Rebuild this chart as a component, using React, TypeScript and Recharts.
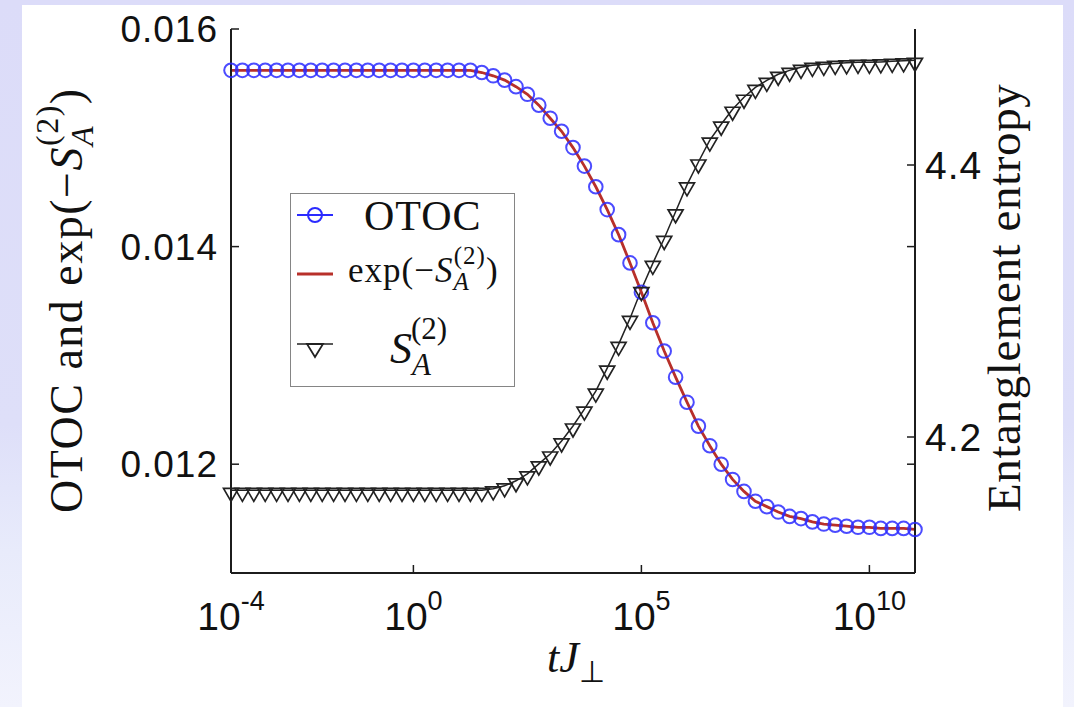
import React from "react"
import { LineChart, Line, XAxis, YAxis, Legend } from "recharts"

const SANS = "'Liberation Sans', Arial, Helvetica, sans-serif"
const SERIF = "'Liberation Serif', 'Times New Roman', serif"
const BLUE = "#2b2bff"
const RED = "#b8302a"
const DARK = "#222222"
const AXIS = "#1c1c1c"

// log10(t J_perp) of every sample
const EXPONENTS = [
  -4, -3.75, -3.5, -3.25, -3, -2.75, -2.5, -2.25, -2, -1.75,
  -1.5, -1.25, -1, -0.75, -0.5, -0.25, 0, 0.25, 0.5, 0.75,
  1, 1.25, 1.5, 1.75, 2, 2.25, 2.5, 2.75, 3, 3.25,
  3.5, 3.75, 4, 4.25, 4.5, 4.75, 5, 5.25, 5.5, 5.75,
  6, 6.25, 6.5, 6.75, 7, 7.25, 7.5, 7.75, 8, 8.25,
  8.5, 8.75, 9, 9.25, 9.5, 9.75, 10, 10.25, 10.5, 10.75, 11,
]

const OTOC = [
  0.01562, 0.01562, 0.01562, 0.01562, 0.01562, 0.01562, 0.01562, 0.01562, 0.01562, 0.01562,
  0.01562, 0.01562, 0.01562, 0.01562, 0.01562, 0.01562, 0.01562, 0.01562, 0.01562, 0.01562,
  0.01562, 0.01562, 0.0156, 0.01557, 0.01553, 0.01547, 0.0154, 0.0153, 0.01518, 0.01506,
  0.01491, 0.01474, 0.01455, 0.01434, 0.01411, 0.01385, 0.01358, 0.0133, 0.01304, 0.0128,
  0.01257, 0.01235, 0.01217, 0.012, 0.01186, 0.01175, 0.01166, 0.01161, 0.01156, 0.01152,
  0.0115, 0.01147, 0.01145, 0.01144, 0.01143, 0.01142, 0.01142, 0.01141, 0.01141, 0.01141, 0.0114,
]

// red curve, lies on top of the OTOC circles
const EXP_S = [
  0.01562, 0.01562, 0.01562, 0.01562, 0.01562, 0.01562, 0.01562, 0.01562, 0.01562, 0.01562,
  0.01562, 0.01562, 0.01562, 0.01562, 0.01562, 0.01562, 0.01562, 0.01562, 0.01562, 0.01562,
  0.01562, 0.01562, 0.0156, 0.01557, 0.01553, 0.01547, 0.0154, 0.0153, 0.01518, 0.01506,
  0.01491, 0.01474, 0.01455, 0.01434, 0.01411, 0.01385, 0.01358, 0.0133, 0.01304, 0.0128,
  0.01257, 0.01235, 0.01217, 0.012, 0.01186, 0.01175, 0.01166, 0.01161, 0.01156, 0.01152,
  0.0115, 0.01147, 0.01145, 0.01144, 0.01143, 0.01142, 0.01142, 0.01141, 0.01141, 0.01141, 0.0114,
]

const ENTROPY = [
  4.1608, 4.1608, 4.1608, 4.1608, 4.1608, 4.1608, 4.1608, 4.1608, 4.1608, 4.1608,
  4.1608, 4.1608, 4.1608, 4.1608, 4.1608, 4.1608, 4.1608, 4.1608, 4.1608, 4.1608,
  4.1608, 4.1608, 4.1608, 4.1619, 4.1641, 4.1678, 4.1729, 4.1802, 4.1875, 4.1971,
  4.2081, 4.2205, 4.2337, 4.2506, 4.2681, 4.2872, 4.3084, 4.3277, 4.346, 4.3656,
  4.3854, 4.4022, 4.4183, 4.43, 4.441, 4.4498, 4.4571, 4.4622, 4.4667, 4.4696,
  4.4718, 4.4733, 4.474, 4.4747, 4.4751, 4.4755, 4.4755, 4.4758, 4.4762, 4.4766, 4.477,
]

const X_TICKS = [1e-4, 1, 1e5, 1e10]
const LEFT_TICKS = [0.012, 0.014, 0.016]
// right axis: labelled ticks plus the mirrored left ticks (0.012 / 0.014)
const RIGHT_TICKS = [4.18, 4.2, 4.34, 4.4]
const RIGHT_LABELS = ["4.2", "4.4"]

const rows = EXPONENTS.map((e, i) => ({
  t: Math.pow(10, e),
  otoc: OTOC[i],
  expS: EXP_S[i],
  entropy: ENTROPY[i],
}))

const triPath = (cx: number, cy: number, s = 7.5) =>
  `M${cx - s},${cy - 2} L${cx + s},${cy - 2} L${cx},${cy + 11} Z`

const XTick = (props: any) => {
  const { x, y, payload } = props
  const exp = Math.round(Math.log10(payload.value))
  return (
    <g>
      <line x1={x} x2={x} y1={y} y2={y - 8} stroke={AXIS} strokeWidth={1.5} />
      <text x={x} y={y + 57} textAnchor="middle" fontFamily={SANS} fontSize={39} fill="#111">
        10<tspan fontSize={27} dy={-20}>{exp}</tspan>
      </text>
    </g>
  )
}

const TopTick = (props: any) => {
  const { x, y } = props
  return <line x1={x} x2={x} y1={y} y2={y + 8} stroke={AXIS} strokeWidth={1.5} />
}

const LeftTick = (props: any) => {
  const { x, y, payload } = props
  return (
    <g>
      <line x1={x} x2={x + 8} y1={y} y2={y} stroke={AXIS} strokeWidth={1.5} />
      <text x={x - 13} y={y} dy="0.35em" textAnchor="end" fontFamily={SANS} fontSize={37} letterSpacing={1} fill="#111">
        {payload.value.toFixed(3)}
      </text>
    </g>
  )
}

const RightTick = (props: any) => {
  const { x, y, payload } = props
  const txt = payload.value.toFixed(1)
  const show = RIGHT_LABELS.includes(payload.value.toFixed(2).replace(/0$/, ""))
  return (
    <g>
      <line x1={x} x2={x - 8} y1={y} y2={y} stroke={AXIS} strokeWidth={1.5} />
      {show && (
        <text x={x + 10} y={y} dy="0.35em" textAnchor="start" fontFamily={SANS} fontSize={39} letterSpacing={1} fill="#111">
          {txt}
        </text>
      )}
    </g>
  )
}

const LeftLabel = () => (
  <text transform="translate(82,513) rotate(-90)" fontFamily={SERIF} fontSize={46} letterSpacing={1.5} fill="#111">
    OTOC and exp(−<tspan fontStyle="italic">S</tspan>
    <tspan fontSize={32} fontStyle="italic" dy={11}>A</tspan>
    <tspan fontSize={32} dx={-21} dy={-35}>(2)</tspan>
    <tspan dy={24}>)</tspan>
  </text>
)

const RightLabel = () => (
  <text transform="translate(1020,512) rotate(-90)" fontFamily={SERIF} fontSize={47} letterSpacing={0.6} fill="#111">
    Entanglement entropy
  </text>
)

const BottomLabel = () => (
  <text x={547} y={672} fontFamily={SERIF} fontSize={44} fontStyle="italic" fill="#111">
    tJ<tspan fontStyle="normal" fontSize={30} dy={10}>⊥</tspan>
  </text>
)

// legend box: 225 x 194, the svg sticks out a little so glyph boxes are not cut
const LegendBox = () => (
  <div
    style={{
      position: "relative",
      width: 225,
      height: 194,
      background: "#fff",
      border: "1.5px solid #858585",
      boxSizing: "border-box",
    }}
  >
    <svg
      width={222}
      height={207}
      style={{ position: "absolute", left: 0, top: -10, display: "block", overflow: "visible" }}
    >
      <g transform="translate(0,10)">
        <line x1={6} x2={42} y1={21} y2={21} stroke={BLUE} strokeWidth={1.8} />
        <circle cx={24} cy={21} r={7} fill="none" stroke={BLUE} strokeWidth={2} />
        <text x={73} y={36} fontFamily={SERIF} fontSize={42} letterSpacing={1} fill="#111">OTOC</text>

        <line x1={6} x2={42} y1={80} y2={80} stroke={RED} strokeWidth={2.8} />
        <text x={57} y={88} fontFamily={SERIF} fontSize={35} letterSpacing={1} fill="#111">
          exp(−<tspan fontStyle="italic">S</tspan>
          <tspan fontSize={25} fontStyle="italic" dy={8}>A</tspan>
          <tspan fontSize={25} dx={-16} dy={-26}>(2)</tspan>
          <tspan dy={18}>)</tspan>
        </text>

        <line x1={6} x2={42} y1={150} y2={150} stroke={DARK} strokeWidth={1.4} />
        <path d={triPath(24, 152, 8)} fill="none" stroke={DARK} strokeWidth={1.8} />
        <text x={99} y={169} fontFamily={SERIF} fontSize={44} fill="#111">
          <tspan fontStyle="italic">S</tspan>
          <tspan fontSize={31} fontStyle="italic" dy={12}>A</tspan>
          <tspan fontSize={31} dx={-20} dy={-36}>(2)</tspan>
        </text>
      </g>
    </svg>
  </div>
)

export default function App() {
  return (
    <div
      style={{
        position: "absolute",
        left: 0,
        top: 0,
        width: 1074,
        height: 707,
        background: "linear-gradient(180deg, #dcdcf9 0%, #dedff9 60%, #e8ebfb 78%, #f2f3fd 100%)",
        overflow: "hidden",
      }}
    >
      <div style={{ position: "absolute", left: 22, top: 5, width: 1041, height: 702, background: "#fff" }} />
      <div style={{ position: "absolute", left: 0, top: 0 }}>
        <LineChart width={1074} height={707} data={rows} margin={{ top: 29, right: 0, bottom: 0, left: 0 }}>
          <XAxis
            xAxisId="b"
            dataKey="t"
            type="number"
            scale="log"
            domain={[1e-4, 1e11]}
            ticks={X_TICKS}
            interval={0}
            height={134}
            tickSize={0}
            tickMargin={0}
            tickLine={false}
            tick={<XTick />}
            axisLine={{ stroke: AXIS, strokeWidth: 2 }}
            label={<BottomLabel />}
          />
          <XAxis
            xAxisId="top"
            orientation="top"
            dataKey="t"
            type="number"
            scale="log"
            domain={[1e-4, 1e11]}
            ticks={X_TICKS.slice(1)}
            interval={0}
            height={0}
            tickSize={0}
            tickMargin={0}
            tickLine={false}
            tick={<TopTick />}
            axisLine={{ stroke: AXIS, strokeWidth: 2 }}
          />
          <YAxis
            yAxisId="l"
            type="number"
            domain={[0.011, 0.016]}
            ticks={LEFT_TICKS}
            interval={0}
            width={231}
            tickSize={0}
            tickMargin={0}
            tickLine={false}
            tick={<LeftTick />}
            axisLine={{ stroke: AXIS, strokeWidth: 2 }}
            label={<LeftLabel />}
          />
          <YAxis
            yAxisId="r"
            orientation="right"
            type="number"
            domain={[4.1, 4.5]}
            ticks={RIGHT_TICKS}
            interval={0}
            width={159}
            tickSize={0}
            tickMargin={0}
            tickLine={false}
            tick={<RightTick />}
            axisLine={{ stroke: AXIS, strokeWidth: 2 }}
            label={<RightLabel />}
          />
          <Line
            xAxisId="b"
            yAxisId="l"
            type="linear"
            dataKey="otoc"
            name="OTOC"
            stroke={BLUE}
            strokeWidth={1.2}
            dot={{ r: 6.8, stroke: BLUE, strokeWidth: 2, fill: "none", strokeOpacity: 0.85 }}
            activeDot={false}
            isAnimationActive={false}
          />
          <Line
            xAxisId="b"
            yAxisId="r"
            type="linear"
            dataKey="entropy"
            name="S_A^(2)"
            stroke={DARK}
            strokeWidth={1.5}
            dot={(p: any) => (
              <path key={`tri-${p.index}`} d={triPath(p.cx, p.cy)} fill="none" stroke={DARK} strokeWidth={1.7} />
            )}
            activeDot={false}
            isAnimationActive={false}
          />
          <Line
            xAxisId="b"
            yAxisId="l"
            type="linear"
            dataKey="expS"
            name="exp(-S_A^(2))"
            stroke={RED}
            strokeWidth={2.8}
            dot={false}
            activeDot={false}
            isAnimationActive={false}
          />
          <Legend
            layout="vertical"
            align="center"
            verticalAlign="middle"
            content={<LegendBox />}
            wrapperStyle={{ left: 290, top: 193, width: 225, height: 194 }}
          />
        </LineChart>
      </div>
    </div>
  )
}
